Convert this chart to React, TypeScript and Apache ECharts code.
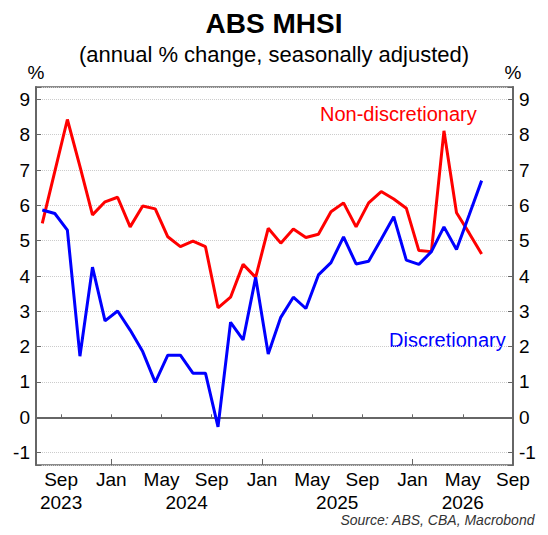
import React, { useEffect, useRef } from "react";
import * as echarts from "echarts";

// Monthly observations, Jul 2023 .. Jun 2026
const START_MONTH = 6; // July (0-based)
const nonDiscretionary = [
  5.49, 6.96, 8.43, 7.1, 5.73, 6.1, 6.23, 5.39, 5.98, 5.9, 5.11, 4.83,
  4.99, 4.83, 3.1, 3.4, 4.33, 3.96, 5.35, 4.93, 5.33, 5.09, 5.18, 5.82,
  6.07, 5.39, 6.07, 6.39, 6.18, 5.92, 4.72, 4.69, 8.11, 5.79, 5.22, 4.62,
];
const discretionary = [
  5.87, 5.77, 5.3, 1.73, 4.25, 2.73, 3.01, 2.47, 1.86, 0.99, 1.76, 1.76,
  1.25, 1.25, -0.27, 2.69, 2.19, 3.96, 1.79, 2.83, 3.4, 3.08, 4.03, 4.38,
  5.11, 4.34, 4.42, 5.04, 5.68, 4.45, 4.33, 4.69, 5.39, 4.75, 5.72, 6.7,
];
const monthNames = ["Jan", "Feb", "Mar", "Apr", "May", "Jun", "Jul", "Aug", "Sep", "Oct", "Nov", "Dec"];
// year label placement: [axis value, label]
const yearLabels: [number, string][] = [
  [4, "2023"],
  [14, "2024"],
  [26, "2025"],
  [36, "2026"],
];
const janTicks = [8, 20, 32];
const yTickLabels = [-1, 0, 1, 2, 3, 4, 5, 6, 7, 8, 9];

const FONT = "'Liberation Sans', Arial, sans-serif";
// x axis value: 2 = 1 Jul 2023, each unit one month
const X_OFFSET = 2;

function monthLabel(v: number): string {
  const m = Math.round(v - X_OFFSET);
  if (m <= 0) return "";
  return monthNames[(START_MONTH + m) % 12];
}

export default function App() {
  const ref = useRef<HTMLDivElement>(null);
  useEffect(() => {
    document.body.style.margin = "0";
    const chart = echarts.init(ref.current!, null, { renderer: "svg" });
    const toPts = (arr: number[]) => arr.map((v, i) => [X_OFFSET + i + 0.5, v]);
    const yAxisBase = (pos: "left" | "right") => ({
      type: "value" as const,
      position: pos,
      min: -1.35,
      max: 9.35,
      minInterval: 1,
      maxInterval: 1,
      name: "%",
      nameLocation: "end" as const,
      nameGap: 5,
      nameTextStyle: { fontFamily: FONT, fontSize: 19, color: "#000", align: "center" as const },
      axisLine: { show: true, lineStyle: { color: "#666", width: 2 } },
      axisTick: { show: true, inside: true, length: 5, lineStyle: { color: "#666", width: 1 } },
      axisLabel: {
        fontFamily: FONT,
        fontSize: 19,
        color: "#000",
        margin: 6,
        formatter: (v: number) => (yTickLabels.includes(Math.round(v * 100) / 100) ? String(v) : ""),
      },
      splitLine: pos === "left" ? { show: true, lineStyle: { color: "#ccc", type: "dotted" as const, width: 1 } } : { show: false },
    });
    chart.setOption({
      animation: false,
      title: {
        text: "ABS MHSI",
        subtext: "(annual % change, seasonally adjusted)",
        left: "center",
        top: 4,
        itemGap: 6,
        textStyle: { fontFamily: FONT, fontSize: 28, fontWeight: "bold", color: "#000" },
        subtextStyle: { fontFamily: FONT, fontSize: 22, color: "#000" },
      },
      grid: {
        left: 36,
        right: 35,
        top: 87,
        bottom: 70,
        show: true,
        borderColor: "#666",
        borderWidth: 1.5,
        containLabel: false,
      },
      xAxis: [
        {
          type: "value",
          position: "bottom",
          min: 2,
          max: 40,
          minInterval: 4,
          maxInterval: 4,
          axisLine: { show: true, lineStyle: { color: "#666", width: 2 } },
          axisTick: { show: true, inside: true, length: 3, lineStyle: { color: "#666" } },
          axisLabel: { fontFamily: FONT, fontSize: 19, color: "#000", margin: 5, formatter: monthLabel },
          splitLine: { show: false },
        },
        {
          type: "value",
          position: "bottom",
          min: 2,
          max: 40,
          minInterval: 2,
          maxInterval: 2,
          axisLine: { show: false },
          axisTick: { show: false },
          axisLabel: {
            fontFamily: FONT,
            fontSize: 19,
            color: "#000",
            margin: 28,
            formatter: (v: number) => {
              const f = yearLabels.find((y) => Math.abs(y[0] - v) < 0.01);
              return f ? f[1] : "";
            },
          },
          splitLine: { show: false },
        },
        {
          type: "value",
          position: "bottom",
          min: 2,
          max: 40,
          axisLine: { show: false },
          axisTick: { show: true, inside: true, length: 6, customValues: janTicks, lineStyle: { color: "#666" } },
          axisLabel: { show: false },
          splitLine: { show: false },
        },
      ],
      yAxis: [yAxisBase("left"), yAxisBase("right")],
      series: [
        {
          name: "Non-discretionary",
          type: "line",
          data: toPts(nonDiscretionary),
          showSymbol: false,
          symbol: "none",
          lineStyle: { color: "#ff0000", width: 3 },
          z: 3,
        },
        {
          name: "Discretionary",
          type: "line",
          data: toPts(discretionary),
          showSymbol: false,
          symbol: "none",
          lineStyle: { color: "#0000ff", width: 3 },
          z: 4,
        },
      ],
      graphic: [
        {
          type: "text",
          left: 320,
          top: 104,
          style: { text: "Non-discretionary", fill: "#ff0000", font: `20px ${FONT}` },
        },
        {
          type: "text",
          left: 389,
          top: 330,
          style: { text: "Discretionary", fill: "#0000ff", font: `20px ${FONT}` },
        },
        {
          type: "text",
          right: 13,
          top: 513,
          style: { text: "Source: ABS, CBA, Macrobond", fill: "#333", font: `italic 14px ${FONT}` },
        },
      ],
    });
    return () => chart.dispose();
  }, []);
  return <div ref={ref} style={{ width: 548, height: 535 }} />;
}
